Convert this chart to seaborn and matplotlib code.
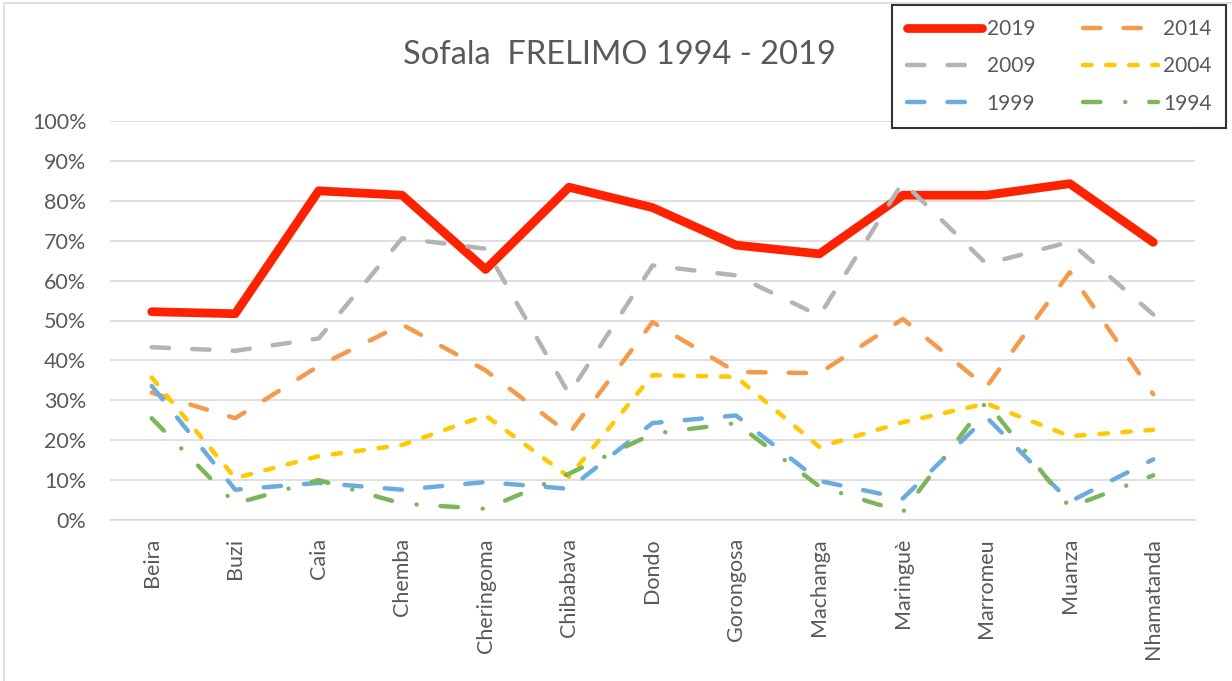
import matplotlib
matplotlib.use("Agg")
import matplotlib.pyplot as plt
from matplotlib.patches import Rectangle
from matplotlib.ticker import PercentFormatter
import seaborn as sns

districts = ["Beira", "Buzi", "Caia", "Chemba", "Cheringoma", "Chibabava", "Dondo",
             "Gorongosa", "Machanga", "Maringuè", "Marromeu", "Muanza", "Nhamatanda"]

v2019 = [52.2, 51.7, 82.5, 81.4, 62.8, 83.4, 78.3, 68.9, 66.7, 81.4, 81.4, 84.3, 69.6]
v2014 = [31.9, 25.5, 38.6, 49.0, 37.5, 21.6, 49.6, 37.1, 36.8, 50.4, 33.3, 62.1, 31.5]
v2009 = [43.3, 42.4, 45.5, 70.6, 68.0, 31.6, 63.8, 61.3, 51.2, 84.7, 64.2, 69.7, 51.5]
v2004 = [35.7, 10.5, 16.0, 18.8, 26.2, 10.8, 36.3, 35.9, 18.3, 24.5, 29.2, 21.0, 22.6]
v1999 = [33.6, 7.6, 9.3, 7.6, 9.5, 7.8, 24.3, 26.2, 9.8, 5.4, 25.8, 4.6, 15.2]
v1994 = [25.5, 4.1, 10.0, 4.1, 2.8, 11.6, 21.6, 24.3, 8.4, 2.0, 29.6, 3.2, 11.2]

series = [
    ("2019", v2019, "#FF2200", 6.3, None),
    ("2014", v2014, "#F39A4B", 3.2, (3.9, 5.2)),
    ("2009", v2009, "#B4B4B4", 3.2, (3.9, 5.2)),
    ("2004", v2004, "#FFC800", 3.2, (1.9, 3.3)),
    ("1999", v1999, "#6BABDE", 3.2, (3.9, 5.2)),
    ("1994", v1994, "#7BB75A", 3.2, (3.9, 5.6, 0.01, 5.4)),
]

sns.set_style("white")
plt.rcParams["font.family"] = ["Lato", "DejaVu Sans"]
text_color = "#595959"

fig = plt.figure(figsize=(12.32, 6.81), dpi=100)
ax = fig.add_axes([110 / 1232, 1 - 520 / 681, (1195 - 110) / 1232, (520 - 121) / 681])

handles = {}
for name, vals, color, lw, dash in series:
    sns.lineplot(x=districts, y=[v / 100 for v in vals], ax=ax, color=color,
                 linewidth=lw, label=name, sort=False)
    line = ax.lines[-1]
    if dash is not None:
        line.set_linestyle((0, dash))
        line.set_dash_capstyle("round")
    line.set_solid_capstyle("round")
    line.set_solid_joinstyle("round")
    line.set_dash_joinstyle("round")
    handles[name] = line

ax.set_ylim(0, 1)
ax.set_xlim(-0.5, len(districts) - 0.5)
ax.set_yticks([i / 10 for i in range(11)])
ax.yaxis.set_major_formatter(PercentFormatter(1.0, decimals=0))
ax.grid(axis="y", color="#D9D9D9", linewidth=1.2)
ax.set_axisbelow(True)
for side in ["top", "right", "left"]:
    ax.spines[side].set_visible(False)
ax.spines["bottom"].set_color("#D9D9D9")
ax.spines["bottom"].set_linewidth(1.2)
ax.tick_params(axis="both", length=0, labelsize=15.5, colors=text_color)
ax.tick_params(axis="y", pad=17)
ax.tick_params(axis="x", pad=13)
plt.setp(ax.get_xticklabels(), rotation=90)
ax.set_xlabel("")
ax.set_ylabel("")
ax.get_legend().remove()

fig.text(619 / 1232, 1 - 55 / 681, "Sofala  FRELIMO 1994 - 2019", ha="center", va="center",
         fontsize=23.5, color=text_color)

order = ["2019", "2009", "1999", "2014", "2004", "1994"]
leg = fig.legend([handles[k] for k in order], order, loc="upper right",
                 bbox_to_anchor=(1226 / 1232, 1 - 5 / 681), ncol=2, fontsize=15,
                 frameon=True, fancybox=False, borderaxespad=0, handlelength=3.6,
                 handletextpad=0.25, columnspacing=2.3, labelspacing=0.83,
                 borderpad=0.68)
leg.get_frame().set_edgecolor("black")
leg.get_frame().set_linewidth(1.5)
for t in leg.get_texts():
    t.set_color(text_color)

fig.add_artist(Rectangle((4 / 1232, -0.01), 1.02, 1 - 3 / 681 + 0.01, transform=fig.transFigure,
                         fill=False, edgecolor="#D9D9D9", linewidth=1.2))

fig.savefig("out.png", dpi=100, facecolor="white")
